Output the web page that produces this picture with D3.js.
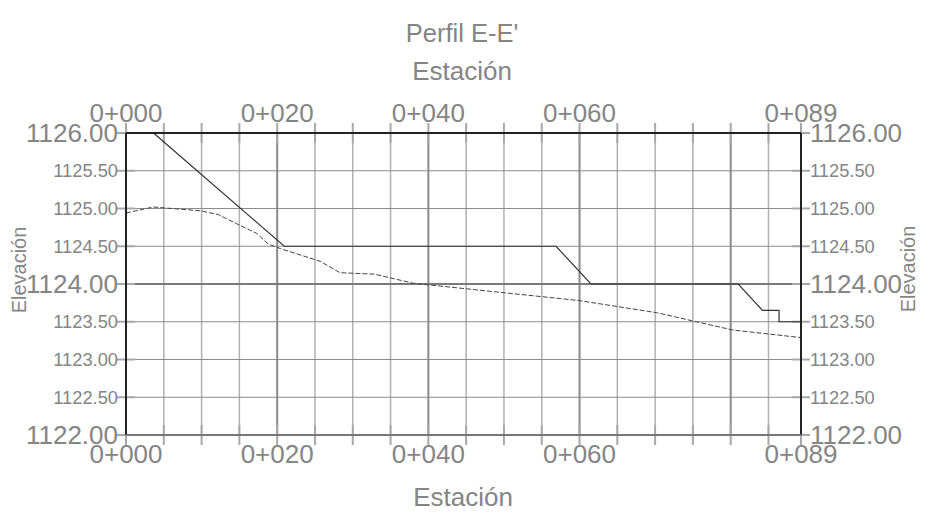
<!DOCTYPE html>
<html><head><meta charset="utf-8">
<script src="https://cdn.jsdelivr.net/npm/d3@7"></script>
<style>body{margin:0;background:#fff}svg{display:block;font-family:Arial,"Liberation Sans",sans-serif}</style>
</head><body><svg id="c" width="938" height="517"></svg>
<script>
// Data
const title = "Perfil E-E'";
const xTitle = "Estación";
const yTitle = "Elevación";
const stationDomain = [0, 89.3];
const elevDomain = [1122, 1126];
const xMajorTicks = [0, 20, 40, 60, 89.3];
const xMinorTicks = [5, 10, 15, 25, 30, 35, 45, 50, 55, 65, 70, 75, 80, 85];
const xGridMajor = [20, 40, 60, 80];
const yMajorTicks = [1122, 1124, 1126];
const yMinorTicks = [1122.5, 1123, 1123.5, 1124.5, 1125, 1125.5];
// design profile (solid)
const designStation = [3.64, 20.94, 56.9, 61.5, 81.0, 84.2, 86.4, 86.4, 89.3];
const designElev    = [1126.0, 1124.5, 1124.5, 1124.0, 1124.0, 1123.65, 1123.65, 1123.5, 1123.5];
// ground profile (dashed)
const groundStation = [0, 3.6, 9.8, 12.2, 14.6, 17.3, 18.8, 20.4, 25.7, 28.3, 32.9, 38.0, 60.0, 70.2, 80.3, 89.3];
const groundElev    = [1124.94, 1125.02, 1124.97, 1124.92, 1124.80, 1124.67, 1124.53, 1124.47, 1124.30, 1124.15, 1124.13, 1124.01, 1123.78, 1123.62, 1123.39, 1123.29];

const svg = d3.select("#c");
const L = 126, R = 801, T = 133, B = 435;
const x = d3.scaleLinear().domain(stationDomain).range([L, R]);
const y = d3.scaleLinear().domain(elevDomain).range([B, T]);
const fmtSta = v => "0+" + String(Math.round(v)).padStart(3, "0");
const fmtEl = v => v.toFixed(2);
const textCol = "#858585";

const g = svg.append("g");
// grid minor vertical
g.selectAll(".gvm").data(xMinorTicks.filter(v => !xGridMajor.includes(v))).join("line")
  .attr("x1", d => x(d)).attr("x2", d => x(d)).attr("y1", T).attr("y2", B)
  .attr("stroke", "#b0b0b0").attr("stroke-width", 1.5);
// grid horizontal minor
g.selectAll(".ghm").data(yMinorTicks).join("line")
  .attr("x1", L).attr("x2", R).attr("y1", d => y(d)).attr("y2", d => y(d))
  .attr("stroke", "#8c8c8c").attr("stroke-width", 1);
// grid major vertical
g.selectAll(".gvM").data(xGridMajor).join("line")
  .attr("x1", d => x(d)).attr("x2", d => x(d)).attr("y1", T).attr("y2", B)
  .attr("stroke", "#8a8a8a").attr("stroke-width", 2);
// grid major horizontal
g.selectAll(".ghM").data(yMajorTicks).join("line")
  .attr("x1", L).attr("x2", R).attr("y1", d => y(d)).attr("y2", d => y(d))
  .attr("stroke", "#7a7a7a").attr("stroke-width", 2);

// ticks across borders
const allX = xMinorTicks.concat(xMajorTicks);
[T, B].forEach(yy => {
  g.append("g").selectAll("line").data(allX).join("line")
    .attr("x1", d => x(d)).attr("x2", d => x(d)).attr("y1", yy - 10).attr("y2", yy + 10)
    .attr("stroke", "#a8a8a8").attr("stroke-width", 2);
});
const allY = yMinorTicks.concat(yMajorTicks);
[L, R].forEach(xx => {
  g.append("g").selectAll("line").data(allY).join("line")
    .attr("x1", xx - 9).attr("x2", xx + 9).attr("y1", d => y(d)).attr("y2", d => y(d))
    .attr("stroke", "#a8a8a8").attr("stroke-width", 2);
});

// profiles
const line = d3.line().x(d => x(d[0])).y(d => y(d[1]));
const ground = groundStation.map((s, i) => [s, groundElev[i]]);
const design = designStation.map((s, i) => [s, designElev[i]]);
g.append("path").datum(ground).attr("d", line).attr("fill", "none")
  .attr("stroke", "#444").attr("stroke-width", 1).attr("stroke-dasharray", "5,2");
g.append("path").datum(design).attr("d", line).attr("fill", "none")
  .attr("stroke", "#333").attr("stroke-width", 1.2);

// border
g.append("line").attr("x1", L).attr("x2", L).attr("y1", T).attr("y2", B).attr("stroke", "#222").attr("stroke-width", 2);
g.append("line").attr("x1", R).attr("x2", R).attr("y1", T).attr("y2", B).attr("stroke", "#222").attr("stroke-width", 2);
g.append("line").attr("x1", L).attr("x2", R).attr("y1", T).attr("y2", T).attr("stroke", "#222").attr("stroke-width", 2);
g.append("line").attr("x1", L).attr("x2", R).attr("y1", B).attr("y2", B).attr("stroke", "#777").attr("stroke-width", 2);

// x labels
[T - 11, B + 28].forEach(yy => {
  svg.append("g").selectAll("text").data(xMajorTicks).join("text")
    .attr("x", d => x(d)).attr("y", yy).attr("text-anchor", "middle")
    .attr("font-size", 26).attr("fill", textCol).text(fmtSta);
});
// y labels
[[L - 8, "end"], [R + 9, "start"]].forEach(([xx, anc]) => {
  svg.append("g").selectAll("text").data(yMajorTicks).join("text")
    .attr("x", xx).attr("y", d => y(d)).attr("dy", "0.35em").attr("text-anchor", anc)
    .attr("font-size", 26).attr("fill", textCol).text(fmtEl);
  svg.append("g").selectAll("text").data(yMinorTicks).join("text")
    .attr("x", xx).attr("y", d => y(d)).attr("dy", "0.35em").attr("text-anchor", anc)
    .attr("font-size", 18.3).attr("fill", textCol).text(fmtEl);
});

// titles
svg.append("text").attr("x", 462).attr("y", 42).attr("text-anchor", "middle")
  .attr("font-size", 25.5).attr("fill", textCol).text(title);
svg.append("text").attr("x", 462).attr("y", 80).attr("text-anchor", "middle")
  .attr("font-size", 26).attr("fill", textCol).text(xTitle);
svg.append("text").attr("x", 463).attr("y", 506).attr("text-anchor", "middle")
  .attr("font-size", 26).attr("fill", textCol).text(xTitle);
svg.append("text").attr("transform", "translate(25.5,270) rotate(-90)").attr("text-anchor", "middle")
  .attr("font-size", 20).attr("fill", textCol).text(yTitle);
svg.append("text").attr("transform", "translate(915,269) rotate(-90)").attr("text-anchor", "middle")
  .attr("font-size", 20).attr("fill", textCol).text(yTitle);
</script></body></html>
